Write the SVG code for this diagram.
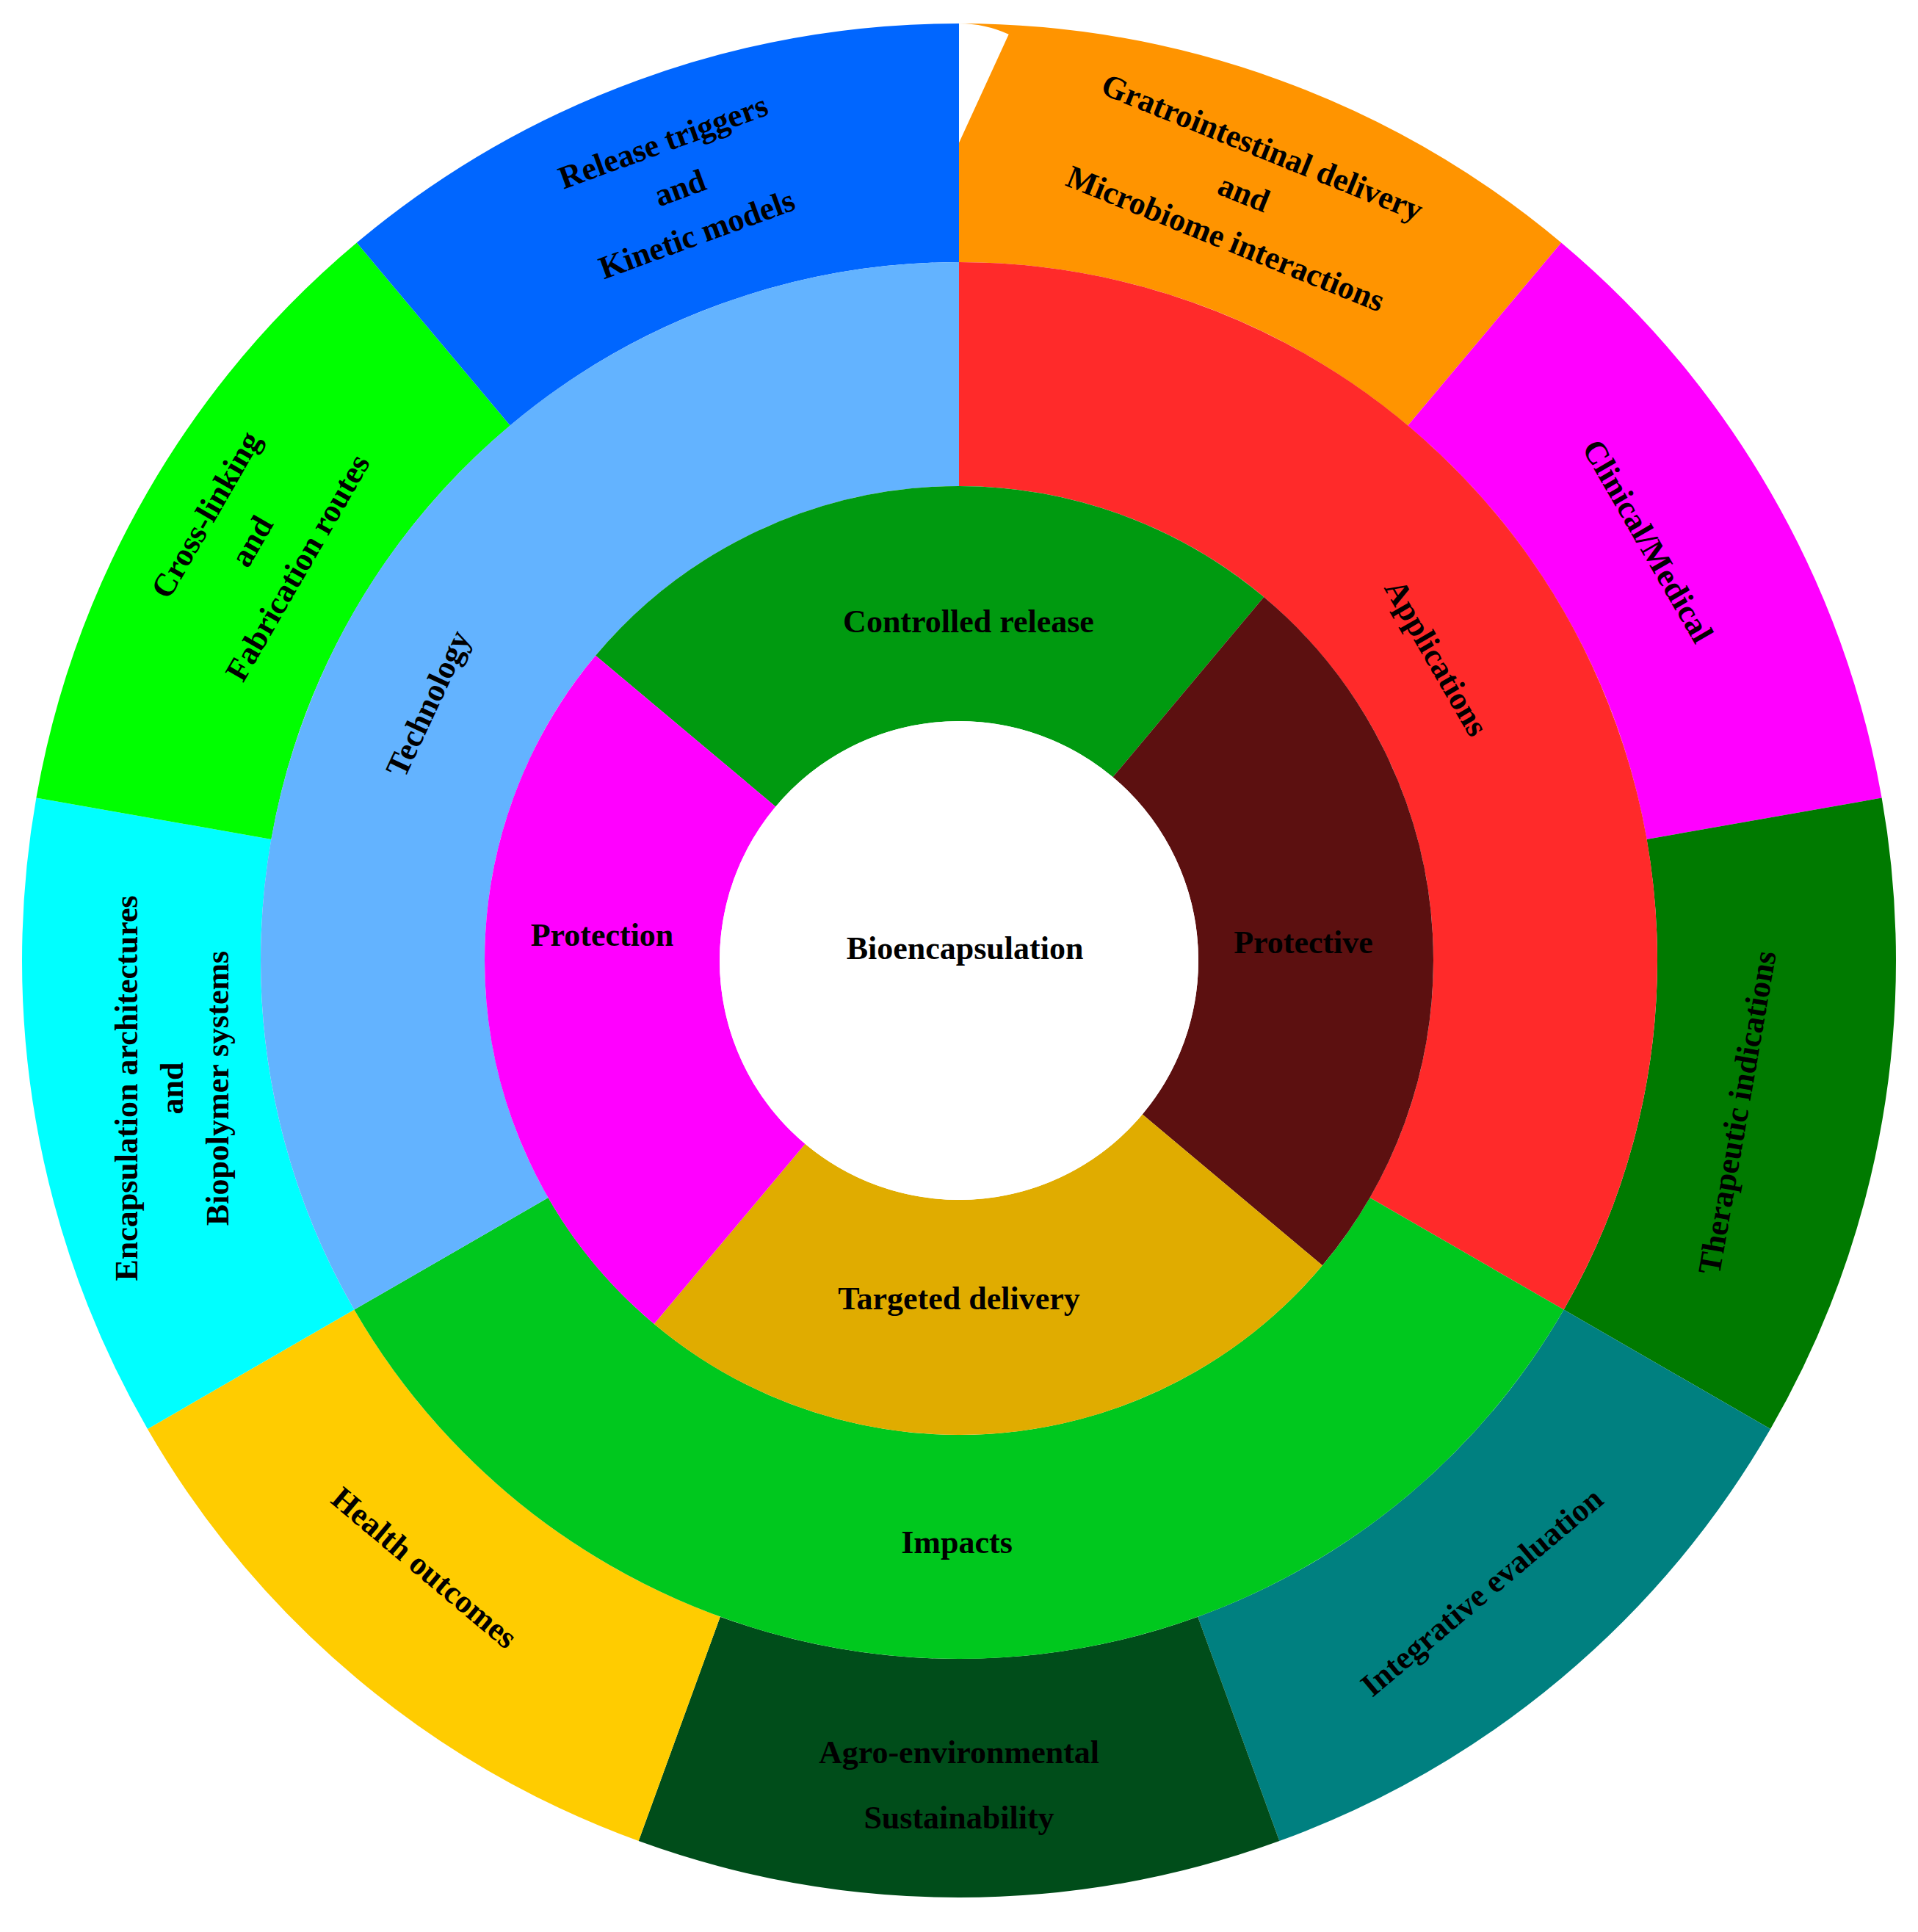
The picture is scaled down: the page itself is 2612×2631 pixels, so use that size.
<svg xmlns="http://www.w3.org/2000/svg" width="2612" height="2631" viewBox="0 0 2612 2631">
<style>
.s{fill:none;}
.t{font-family:"Liberation Serif",serif;font-weight:bold;font-size:44px;fill:#000;text-anchor:middle;dominant-baseline:central;}
</style>
<rect width="2612" height="2631" fill="#fff"/>
<g id="outer-ring">
<circle class="s" cx="1306" cy="1308" r="1113.5" stroke="#FF9400" stroke-width="325" pathLength="360" stroke-dasharray="40 320" stroke-dashoffset="90"/>
<circle class="s" cx="1306" cy="1308" r="1113.5" stroke="#FF00FF" stroke-width="325" pathLength="360" stroke-dasharray="40 320" stroke-dashoffset="50"/>
<circle class="s" cx="1306" cy="1308" r="1113.5" stroke="#007A00" stroke-width="325" pathLength="360" stroke-dasharray="40 320" stroke-dashoffset="10"/>
<circle class="s" cx="1306" cy="1308" r="1113.5" stroke="#008080" stroke-width="325" pathLength="360" stroke-dasharray="40 320" stroke-dashoffset="-30"/>
<circle class="s" cx="1306" cy="1308" r="1113.5" stroke="#004D1A" stroke-width="325" pathLength="360" stroke-dasharray="40 320" stroke-dashoffset="-70"/>
<circle class="s" cx="1306" cy="1308" r="1113.5" stroke="#FFCC00" stroke-width="325" pathLength="360" stroke-dasharray="40 320" stroke-dashoffset="-110"/>
<circle class="s" cx="1306" cy="1308" r="1113.5" stroke="#00FFFF" stroke-width="325" pathLength="360" stroke-dasharray="40 320" stroke-dashoffset="-150"/>
<circle class="s" cx="1306" cy="1308" r="1113.5" stroke="#00FF00" stroke-width="325" pathLength="360" stroke-dasharray="40 320" stroke-dashoffset="-190"/>
<circle class="s" cx="1306" cy="1308" r="1113.5" stroke="#0066FF" stroke-width="325" pathLength="360" stroke-dasharray="40 320" stroke-dashoffset="-230"/>
</g>
<g id="middle-ring">
<circle class="s" cx="1306" cy="1308" r="798.5" stroke="#FF2A2A" stroke-width="305" pathLength="360" stroke-dasharray="120 240" stroke-dashoffset="90"/>
<circle class="s" cx="1306" cy="1308" r="798.5" stroke="#00C81E" stroke-width="305" pathLength="360" stroke-dasharray="120 240" stroke-dashoffset="-30"/>
<circle class="s" cx="1306" cy="1308" r="798.5" stroke="#63B3FF" stroke-width="305" pathLength="360" stroke-dasharray="120 240" stroke-dashoffset="-150"/>
</g>
<g id="inner-ring">
<circle class="s" cx="1306" cy="1308" r="486" stroke="#009A10" stroke-width="320" pathLength="360" stroke-dasharray="90 270" stroke-dashoffset="-220"/>
<circle class="s" cx="1306" cy="1308" r="486" stroke="#5C1010" stroke-width="320" pathLength="360" stroke-dasharray="90 270" stroke-dashoffset="50"/>
<circle class="s" cx="1306" cy="1308" r="486" stroke="#E0AC00" stroke-width="320" pathLength="360" stroke-dasharray="90 270" stroke-dashoffset="-40"/>
<circle class="s" cx="1306" cy="1308" r="486" stroke="#FF00FF" stroke-width="320" pathLength="360" stroke-dasharray="90 270" stroke-dashoffset="-130"/>
</g>
<g id="center"><circle cx="1306" cy="1308" r="326" fill="#fff"/>
<text class="t" x="1314" y="1291">Bioencapsulation</text></g>
<g id="labels-inner">
<text class="t" x="1319" y="846">Controlled release</text>
<text class="t" x="1775" y="1283">Protective</text>
<text class="t" x="1306" y="1768">Targeted delivery</text>
<text class="t" x="820" y="1273">Protection</text>
</g>
<g id="labels-middle">
<text class="t" transform="translate(1956,896) rotate(60)">Applications</text>
<text class="t" transform="translate(583,958) rotate(-65)">Technology</text>
<text class="t" x="1303" y="2100">Impacts</text>
</g>
<g id="labels-outer">
<g transform="translate(926,256) rotate(-20)">
<text class="t" y="-67">Release triggers</text><text class="t" y="0">and</text><text class="t" y="67">Kinetic models</text></g>
<g transform="translate(1694,263) rotate(22)">
<text class="t" y="-67">Gratrointestinal delivery</text><text class="t" y="0">and</text><text class="t" y="67">Microbiome interactions</text></g>
<text class="t" transform="translate(2244,737) rotate(60)">Clinical/Medical</text>
<text class="t" transform="translate(2366,1515) rotate(-80)">Therapeutic indications</text>
<text class="t" transform="translate(2018,2168) rotate(-40)">Integrative evaluation</text>
<text class="t" x="1306" y="2386">Agro-environmental</text>
<text class="t" x="1306" y="2475">Sustainability</text>
<text class="t" transform="translate(578,2135) rotate(40)">Health outcomes</text>
<g transform="translate(234,1482) rotate(-90)">
<text class="t" y="-62">Encapsulation architectures</text><text class="t" y="0">and</text><text class="t" y="62">Biopolymer systems</text></g>
<g transform="translate(343,737) rotate(-60)">
<text class="t" y="-72">Cross-linking</text><text class="t" y="0">and</text><text class="t" y="72">Fabrication routes</text></g>
</g>
</svg>
